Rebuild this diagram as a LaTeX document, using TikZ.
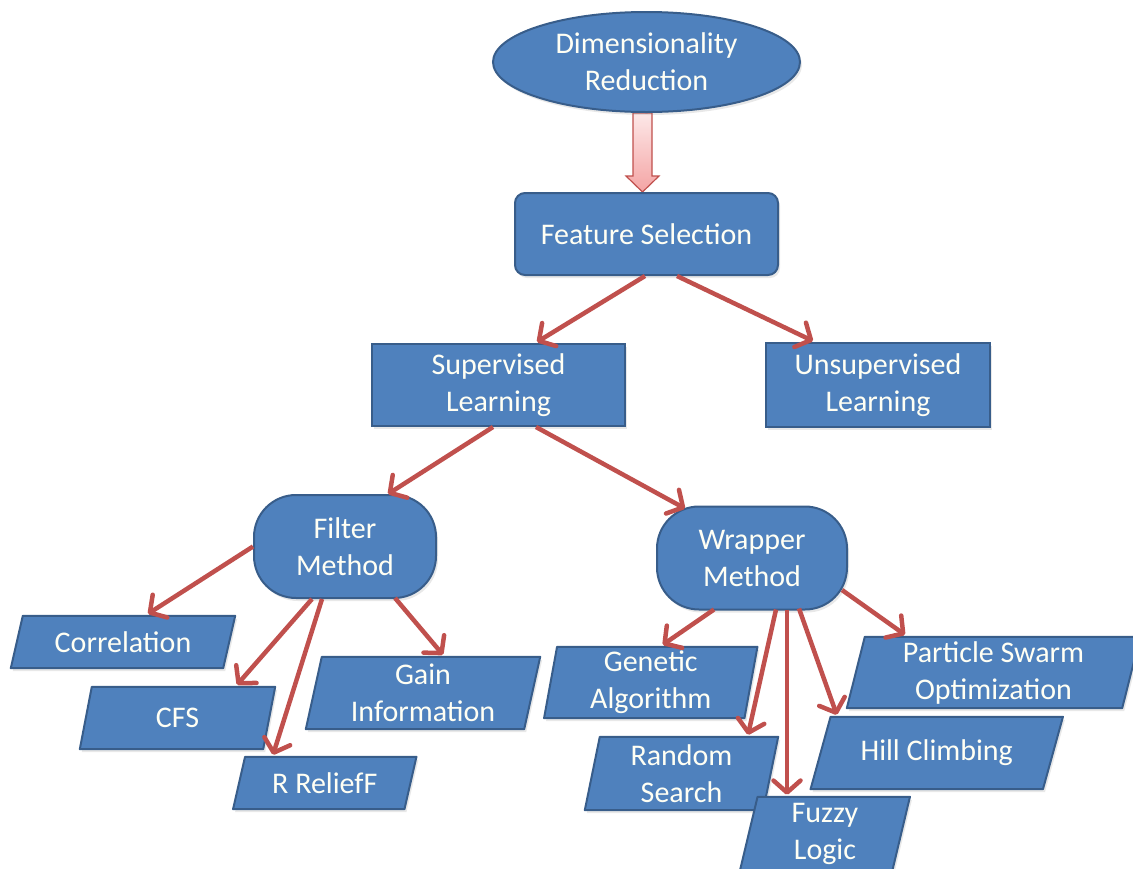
\documentclass[tikz,border=0pt]{standalone}
\usepackage{fontspec}
\setmainfont{Carlito}
\usetikzlibrary{shapes.geometric,arrows.meta,calc,backgrounds,shadows}
\definecolor{boxblue}{HTML}{4F81BD}
\definecolor{boxedge}{HTML}{385D8A}
\definecolor{arrred}{HTML}{C0504D}
\definecolor{pinktop}{HTML}{FDE8E8}
\definecolor{pinkbot}{HTML}{F4A4A4}
\definecolor{txtcol}{HTML}{FFFFF4}
\tikzset{
  lbl/.style={font=\fontsize{30}{37}\selectfont, text=txtcol, align=center, inner sep=0pt},
  softshadow/.style={drop shadow={opacity=0.18, shadow xshift=2pt, shadow yshift=-3pt}},
  box/.style={lbl, rectangle, fill=boxblue, draw=boxedge, line width=2pt, softshadow},
  rbox/.style={box, rounded corners=10pt},
  pill/.style={box, rounded corners=42pt},
  para/.style={lbl, rectangle},
  parashape/.style={fill=boxblue, draw=boxedge, line width=2pt, line join=round, softshadow},
  arr/.style={draw=arrred, line width=4.5pt, -{Straight Barb[length=12pt,width=27pt,line width=0pt 1,round]}},
}
\newcommand\paradraw[2]{\draw[parashape] ([xshift=#2]#1.north west) -- ([xshift=#2]#1.north east) -- ([xshift=-#2]#1.south east) -- ([xshift=-#2]#1.south west) -- cycle;}
\begin{document}
\begin{tikzpicture}[x=1pt,y=-1pt]
\useasboundingbox (0,0) rectangle (1133,868);
\clip (0,0) rectangle (1133,868);
% main nodes
\node[lbl, ellipse, fill=boxblue, draw=boxedge, line width=2pt, softshadow, minimum width=307pt, minimum height=100pt] (dr) at (646.5,62) {Dimensionality\\Reduction};
\node[rbox, minimum width=263pt, minimum height=82pt] (fs) at (646.5,234) {Feature Selection};
\node[box, minimum width=253pt, minimum height=82pt] (sup) at (498.5,385) {Supervised\\Learning};
\node[box, minimum width=224pt, minimum height=84pt] (unsup) at (878,385) {Unsupervised\\Learning};
\node[pill, minimum width=182pt, minimum height=103pt] (filter) at (345,546.5) {Filter\\Method};
\node[pill, minimum width=190pt, minimum height=103pt] (wrapper) at (752,558) {Wrapper\\Method};
% parallelogram nodes
\node[para, minimum width=212pt, minimum height=52pt] (corr) at (123,642) {Correlation};
\node[para, minimum width=183pt, minimum height=62pt] (cfs) at (177.5,718) {CFS};
\node[para, minimum width=171pt, minimum height=52pt] (relief) at (324.75,783) {R ReliefF};
\node[para, minimum width=218pt, minimum height=72pt] (gain) at (423,693) {Gain\\Information};
\node[para, minimum width=200pt, minimum height=71pt] (gen) at (650.75,682.5) {Genetic\\Algorithm};
\node[para, minimum width=275pt, minimum height=71pt] (pso) at (993.5,672.5) {Particle Swarm\\Optimization};
\node[para, minimum width=178pt, minimum height=73pt] (rand) at (681.5,773.5) {Random\\Search};
\node[para, minimum width=232pt, minimum height=72pt] (hill) at (936.75,753) {Hill Climbing};
\node[para, minimum width=152pt, minimum height=73pt] (fuzzy) at (825,833.5) {Fuzzy\\Logic};
\begin{pgfonlayer}{background}
\paradraw{corr}{6pt}
\paradraw{cfs}{6pt}
\paradraw{relief}{6pt}
\paradraw{gain}{8pt}
\paradraw{gen}{6.5pt}
\paradraw{pso}{9pt}
\paradraw{rand}{7.5pt}
\paradraw{hill}{10pt}
\paradraw{fuzzy}{8.75pt}
% block arrow from dr to fs
\shade[top color=pinktop, bottom color=pinkbot, draw=arrred, line width=1.2pt, line join=miter]
  ($(dr.south)+(-13.5,0)$) -- ($(dr.south)+(5.5,0)$) -- ($(fs.north)+(5.5,-16)$) -- ($(fs.north)+(12.5,-16)$)
  -- ($(fs.north)+(-4,0)$) -- ($(fs.north)+(-20.5,-16)$) -- ($(fs.north)+(-13.5,-16)$) -- cycle;
\end{pgfonlayer}
% connectors
\draw[arr] ($(fs.south)+(-1.5,0)$) -- ($(sup.north)+(38.5,-1)$);
\draw[arr] ($(fs.south)+(30.5,0)$) -- ($(unsup.north)+(-65,-1)$);
\draw[arr] ($(sup.south)+(-5.5,0)$) -- ($(filter.north)+(43,0)$);
\draw[arr] ($(sup.south)+(37.5,0)$) -- ($(wrapper.north)+(-67,3)$);
\draw[arr] ($(filter.west)+(0,0)$) -- ($(corr.north)+(25,-2)$);
\draw[arr] ($(filter.south)+(-33,0)$) -- ($(cfs.north)+(59.5,-2)$);
\draw[arr] ($(filter.south)+(-23,0)$) -- ($(relief.north)+(-51.75,-2)$);
\draw[arr] ($(filter.south)+(50,-1)$) -- ($(gain.north)+(20,-2)$);
\draw[arr] ($(wrapper.south)+(-38,-1)$) -- ($(gen.north)+(12,-2)$);
\draw[arr] ($(wrapper.south)+(24,-1)$) -- ($(rand.north)+(66.5,-2)$);
\draw[arr] ($(wrapper.south)+(35,-1)$) -- ($(fuzzy.north)+(-38,-2)$);
\draw[arr] ($(wrapper.south)+(47,-2)$) -- ($(hill.north)+(-100,-2)$);
\draw[arr] ($(wrapper.east)+(-6,32)$) -- ($(pso.north)+(-88.5,-2)$);
\end{tikzpicture}
\end{document}
